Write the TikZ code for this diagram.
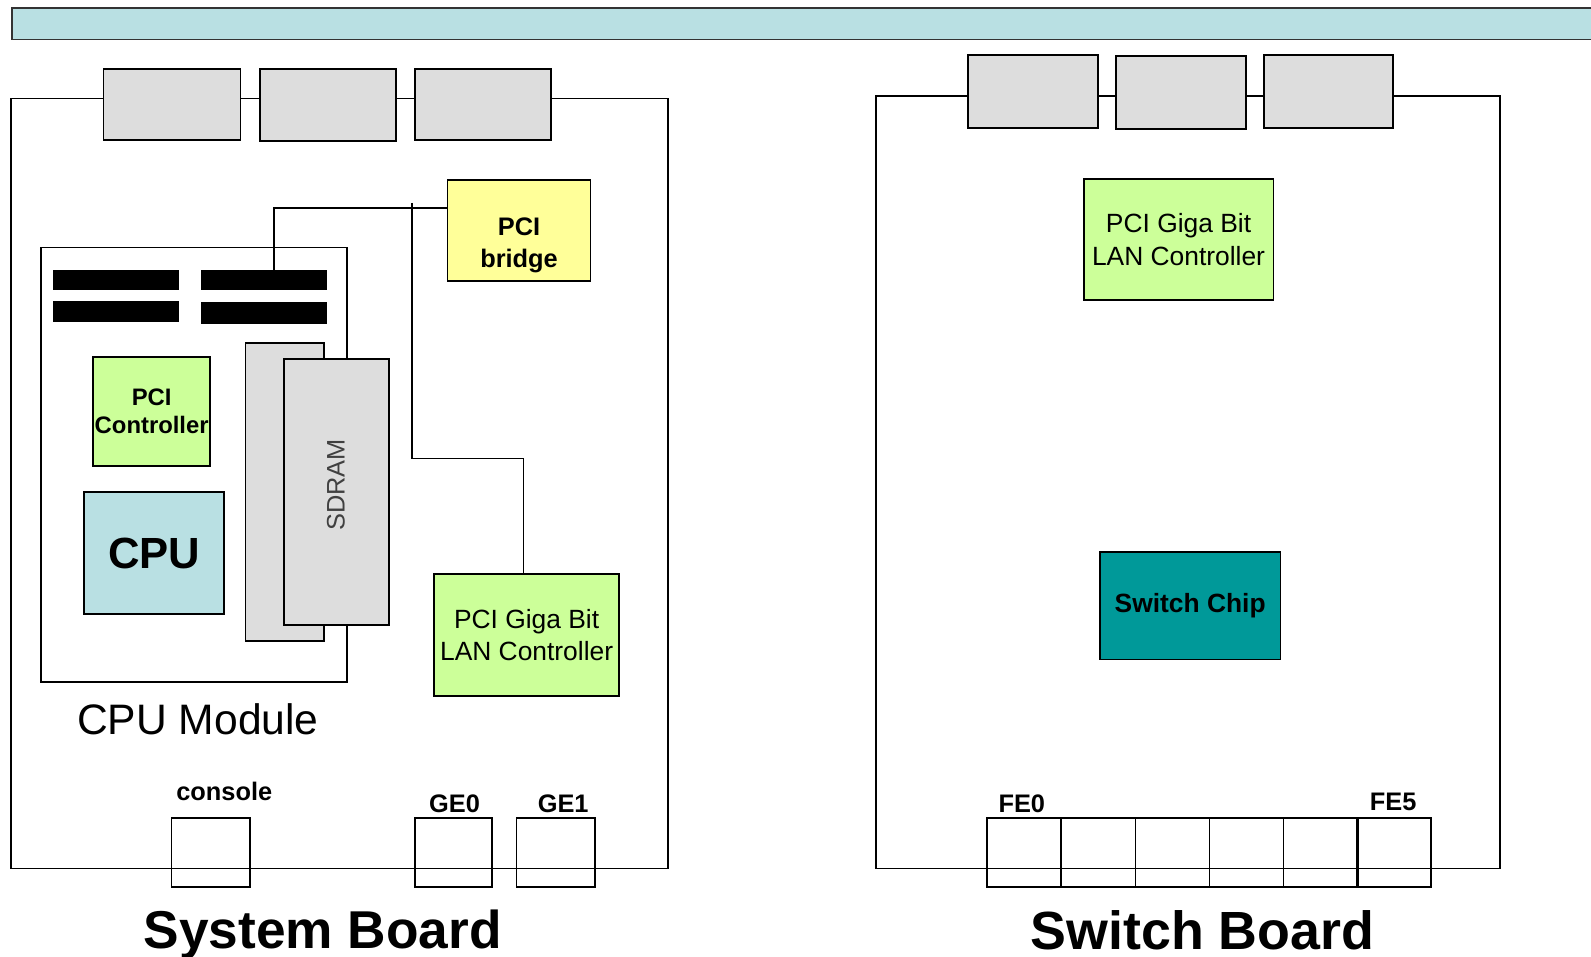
\documentclass[tikz,border=0pt]{standalone}
\usepackage{fontspec}
\setmainfont{Liberation Sans}
\definecolor{lblue}{HTML}{B9E0E3}
\definecolor{lgray}{HTML}{DDDDDD}
\definecolor{lgreen}{HTML}{CCFF99}
\definecolor{lyellow}{HTML}{FFFF99}
\definecolor{teal2}{HTML}{009999}
\tikzset{
  blk/.style={draw=black, line width=1.8pt, rectangle, inner sep=0pt},
  board/.style={blk},
  conn/.style={blk, fill=lgray},
  chip/.style={blk, align=center, font=\fontsize{25}{31}\selectfont},
  port/.style={blk},
  bar/.style={rectangle, fill=black, inner sep=0pt},
  lbl/.style={inner sep=0pt, font=\fontsize{25}{30}\selectfont\bfseries},
  wire/.style={draw=black, line width=1.6pt}
}
\begin{document}
\begin{tikzpicture}[x=1pt, y=-1pt]
\useasboundingbox (0,0) rectangle (1568,943.1);
% banner
\node[blk, draw=black!80, fill=lblue, minimum width=1600pt, minimum height=31pt, anchor=north west] (banner) at (11,7) {};

% ---------------- System board ----------------
\node[board, minimum width=647pt, minimum height=759pt] (sysb) at (334.5,476.5) {};
\node[conn, minimum width=135pt, minimum height=70pt] (sc1) at (169.5,103) {};
\node[conn, minimum width=134pt, minimum height=71pt] (sc2) at (323,103.5) {};
\node[conn, minimum width=134pt, minimum height=70pt] (sc3) at (476,103) {};

\node[blk, minimum width=302pt, minimum height=428pt] (cpum) at (191,458) {};
\node[bar, minimum width=124pt, minimum height=20pt] (b1) at (114,276) {};
\node[bar, minimum width=124pt, minimum height=20pt] (b2) at (260,276) {};
\node[bar, minimum width=124pt, minimum height=20pt] (b3) at (114,307) {};
\node[bar, minimum width=124pt, minimum height=21pt] (b4) at (260,308.5) {};

\node[chip, fill=lgreen, minimum width=115pt, minimum height=107pt, font=\fontsize{23.5}{28}\selectfont\bfseries] (pcic) at (149.5,405.5) {PCI\\Controller};
\node[chip, fill=lblue, minimum width=138pt, minimum height=120pt, font=\fontsize{43}{50}\selectfont\bfseries] (cpu) at (152,545) {CPU};

\node[blk, fill=lgray, minimum width=77pt, minimum height=294pt] (sdb) at (280.5,485) {};
\node[blk, fill=lgray, minimum width=103pt, minimum height=262pt] (sdf) at (331.5,485) {};
\node[inner sep=0pt, rotate=90, text=black!75, font=\fontsize{25}{30}\selectfont] (sdt) at (331,478) {SDRAM};

\node[chip, fill=lyellow, minimum width=141pt, minimum height=100pt] (bridge) at (511.5,227) {};
\node[inner sep=0pt, align=center, font=\fontsize{25}{31}\selectfont\bfseries] (bridgelbl) at ([yshift=-15pt]bridge.center) {PCI\\bridge};
\node[chip, fill=lgreen, minimum width=182pt, minimum height=120pt, font=\fontsize{26}{32}\selectfont] (lan1) at (519,626) {PCI Giga Bit\\LAN Controller};

\coordinate (j1) at (270,205);
\draw[wire] (b2.north -| j1) |- (bridge.west |- j1);
\coordinate (t2) at (406,200);
\coordinate (k) at (516,452);
\draw[wire] (t2) |- (k) -- (k |- lan1.north);

\node[port, minimum width=77pt, minimum height=68pt] (console) at (207.5,840) {};
\node[port, minimum width=76pt, minimum height=68pt] (ge0) at (447,840) {};
\node[port, minimum width=77pt, minimum height=68pt] (ge1) at (547.5,840) {};
\node[lbl] (lconsole) at (221,780) {console};
\node[lbl] (lge0) at (448,792) {GE0};
\node[lbl] (lge1) at (555,792) {GE1};
\node[inner sep=0pt, font=\fontsize{42}{48}\selectfont] (lcpum) at (195,709) {CPU Module};
\node[inner sep=0pt, font=\fontsize{52.5}{60}\selectfont\bfseries] (lsys) at (318,921) {System Board};

% ---------------- Switch board ----------------
\node[board, minimum width=615pt, minimum height=761pt] (swb) at (1170.5,475.5) {};
\node[conn, minimum width=128pt, minimum height=72pt] (wc1) at (1018,90) {};
\node[conn, minimum width=128pt, minimum height=72pt] (wc2) at (1164,91) {};
\node[conn, minimum width=127pt, minimum height=72pt] (wc3) at (1309.5,90) {};
\node[chip, fill=lgreen, minimum width=187pt, minimum height=120pt, font=\fontsize{26}{32}\selectfont] (lan2) at (1161.5,236) {PCI Giga Bit\\LAN Controller};
\node[chip, fill=teal2, minimum width=178pt, minimum height=106pt, font=\fontsize{26}{32}\selectfont\bfseries] (sw) at (1173,597) {Switch Chip};

\foreach \i/\x in {0/1009.5,1/1082.5,2/1155.5,3/1228.5,4/1301.5,5/1374}{
  \node[port, minimum width=73pt, minimum height=68pt] (fe\i) at (\x,840) {};
}
\node[lbl] (lfe0) at (1007,792) {FE0};
\node[lbl] (lfe5) at (1373,790) {FE5};
\node[inner sep=0pt, font=\fontsize{53}{60}\selectfont\bfseries] (lswb) at (1185,917) {Switch Board};
\end{tikzpicture}
\end{document}
